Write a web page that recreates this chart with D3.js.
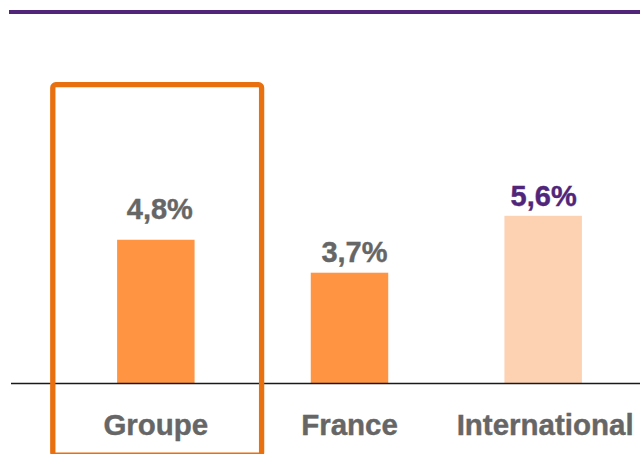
<!DOCTYPE html>
<html><head><meta charset="utf-8">
<script src="https://cdnjs.cloudflare.com/ajax/libs/d3/7.8.5/d3.min.js"></script>
<style>html,body{margin:0;padding:0;background:#fff;}svg{display:block;}
text{font-family:'Liberation Sans', Arial, Helvetica, sans-serif;font-weight:700;}</style>
</head><body>
<script>
const categories = ["Groupe", "France", "International"];
const values = [4.8, 3.7, 5.6];
const valueLabels = ["4,8%", "3,7%", "5,6%"];
const barColors = ["#FF9443", "#FF9443", "#FDD2B2"];
const labelColors = ["#666666", "#666666", "#51267A"];

const W = 640, H = 454;
const svg = d3.select("body").append("svg").attr("width", W).attr("height", H);
const baseY = 383.5;
const x = d3.scaleBand().domain(categories).range([59, 640]).paddingInner(0.6).paddingOuter(0.3);
const y = d3.scaleLinear().domain([0, 5.6]).range([baseY, 215.8]);

// label placement tweaks (layout, not data)
const labelGap = [21, 11, 10];
const labelDx = [4, 5, 0.5];
const catDx = [0, 0, 2];

// top purple rule
svg.append("rect").attr("x", 9).attr("y", 10).attr("width", W - 9).attr("height", 4).attr("fill", "#51267A");

// bars
svg.selectAll(".bar").data(categories).enter().append("rect")
  .attr("x", d => x(d)).attr("width", x.bandwidth())
  .attr("y", (d, i) => y(values[i])).attr("height", (d, i) => baseY - y(values[i]))
  .attr("fill", (d, i) => barColors[i]);

// baseline
svg.append("line").attr("x1", 11).attr("x2", 640).attr("y1", baseY).attr("y2", baseY)
  .attr("stroke", "#1a1a1a").attr("stroke-width", 1.5);

// value labels
svg.selectAll(".val").data(categories).enter().append("text")
  .attr("x", (d, i) => x(d) + x.bandwidth() / 2 + labelDx[i])
  .attr("y", (d, i) => y(values[i]) - labelGap[i])
  .attr("text-anchor", "middle")
  .attr("font-size", 29)
  .attr("fill", (d, i) => labelColors[i])
  .attr("stroke", (d, i) => labelColors[i]).attr("stroke-width", 0.4)
  .text((d, i) => valueLabels[i]);

// category labels
svg.selectAll(".cat").data(categories).enter().append("text")
  .attr("x", (d, i) => x(d) + x.bandwidth() / 2 + catDx[i])
  .attr("y", 435)
  .attr("text-anchor", "middle")
  .attr("font-size", 29.5)
  .attr("fill", "#666666")
  .attr("stroke", "#666666").attr("stroke-width", 0.4)
  .text(d => d);

// highlight box around Groupe
svg.append("rect").attr("x", 52.8).attr("y", 84.7).attr("width", 208.8).attr("height", 370.5)
  .attr("rx", 3).attr("fill", "none").attr("stroke", "#E8700F").attr("stroke-width", 5.3);
</script>
</body></html>
